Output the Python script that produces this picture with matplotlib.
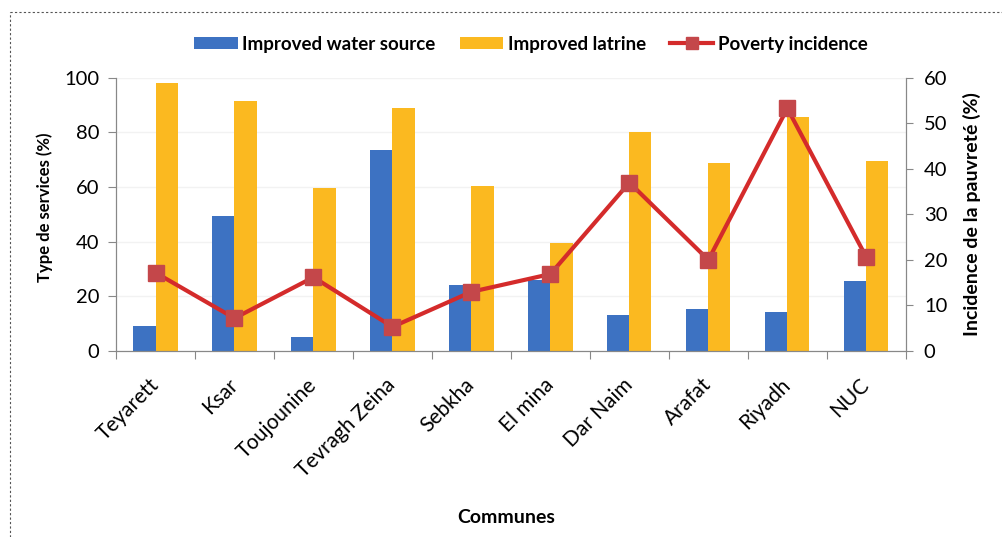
import numpy as np
import matplotlib.pyplot as plt
from matplotlib.lines import Line2D

communes = ['Teyarett', 'Ksar', 'Toujounine', 'Tevragh Zeina', 'Sebkha',
            'El mina', 'Dar Naim', 'Arafat', 'Riyadh', 'NUC']
water = [9, 49.5, 5, 73.6, 24.2, 26, 13, 15.4, 14.4, 25.8]
latrine = [98, 91.6, 59.7, 89, 60.4, 39.5, 80.2, 68.9, 85.7, 69.7]
poverty = [17.2, 7.2, 16.2, 5.3, 13, 16.9, 37, 20, 53.3, 20.6]

plt.rcParams['font.family'] = ['Lato', 'DejaVu Sans']

blue = '#3d72c2'
orange = '#fbb920'
red = '#d42b2b'
marker_c = '#c4474a'

fig = plt.figure(figsize=(10.02, 5.37), dpi=100)
ax = fig.add_axes([0.1158, 0.3464, 0.7882, 0.5086])
ax2 = ax.twinx()

x = np.arange(len(communes))
w = 0.28
ax.bar(x - w / 2, water, w, color=blue, label='Improved water source', zorder=2)
ax.bar(x + w / 2, latrine, w, color=orange, label='Improved latrine', zorder=2)
ax2.plot(x, poverty, color=red, lw=3, marker='s', ms=11.5, mfc=marker_c, mec=marker_c,
         label='Poverty incidence', zorder=3)

ax.set_xlim(-0.5, len(communes) - 0.5)
ax.set_ylim(0, 100)
ax2.set_ylim(0, 60)
ax.set_yticks(range(0, 101, 20))
ax2.set_yticks(range(0, 61, 10))
ax.set_xticks(np.arange(len(communes) + 1) - 0.5)
ax.set_xticklabels([])
ax.set_xticks(x, minor=True)
ax.set_xticklabels(communes, minor=True, rotation=45, ha='right', va='center',
                   rotation_mode='anchor', fontsize=15)
ax.tick_params(axis='x', which='minor', length=0, pad=22)
ax.tick_params(axis='x', which='major', length=6, color='#888888')
ax.tick_params(axis='y', labelsize=14.5, length=6, pad=6, color='#888888')
ax2.tick_params(axis='y', labelsize=14.5, length=5, pad=8, color='#888888')
ax.grid(axis='y', color='#f2f2f2', lw=1, zorder=0)

for a in (ax, ax2):
    a.spines['top'].set_visible(False)
    for s in ('left', 'right', 'bottom'):
        a.spines[s].set_color('#888888')

ax.set_ylabel('Type de services (%)', fontsize=12, fontweight='bold')
ax.yaxis.set_label_coords(-0.08, 0.527)
ax2.set_ylabel('Incidence de la pauvreté (%)', fontsize=14, fontweight='bold')
ax2.yaxis.set_label_coords(1.072, 0.50)
fig.text(0.505, 0.037, 'Communes', ha='center', va='center', fontsize=14, fontweight='bold')

h1, l1 = ax.get_legend_handles_labels()
h2, l2 = ax2.get_legend_handles_labels()
fig.legend(h1 + h2, l1 + l2, loc='center', bbox_to_anchor=(0.53, 0.918), ncol=3,
           frameon=False, prop={'weight': 'bold', 'size': 13.5}, handlelength=2.3,
           handleheight=0.55, columnspacing=1.3, handletextpad=0.25, markerscale=0.75)

# dashed frame (top and left only)
fig.add_artist(Line2D([0.01, 1.0], [0.978, 0.978], transform=fig.transFigure,
                      ls=(0, (2, 2)), lw=0.8, color='#555555'))
fig.add_artist(Line2D([0.01, 0.01], [0.0, 0.978], transform=fig.transFigure,
                      ls=(0, (2, 2)), lw=0.8, color='#555555'))

fig.savefig('out.png', dpi=100)
